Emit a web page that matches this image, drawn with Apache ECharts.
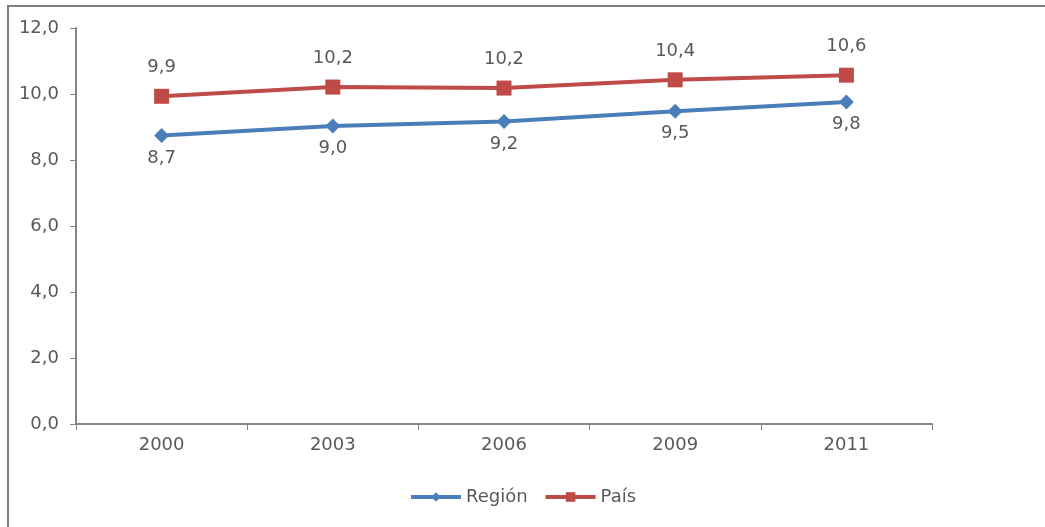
<!DOCTYPE html>
<html>
<head>
<meta charset="utf-8">
<script src="https://cdn.jsdelivr.net/npm/echarts@6/dist/echarts.min.js"></script>
<style>
  html, body { margin: 0; padding: 0; background: #fff; }
  #chart { width: 1045px; height: 527px; }
</style>
</head>
<body>
<div id="chart"></div>
<script>
// datos
var years = ['2000', '2003', '2006', '2009', '2011'];
var region = [8.74, 9.03, 9.17, 9.48, 9.76];
var pais = [9.93, 10.21, 10.18, 10.43, 10.57];
var yTicks = [0, 2, 4, 6, 8, 10, 12];

var textColor = '#595959';
var axisColor = '#868686';
var fontFamily = 'DejaVu Sans';
var fs = 18;

function fmt(v) {
  return v.toFixed(1).replace('.', ',');
}

var myChart = echarts.init(document.getElementById('chart'));
var option = {
  animation: false,
  textStyle: { fontFamily: fontFamily },
  graphic: [
    {
      type: 'rect',
      shape: { x: 8, y: 6, width: 1200, height: 700 },
      style: { fill: 'none', stroke: '#808080', lineWidth: 2 },
      silent: true
    }
  ],
  grid: { left: 76, right: 113, top: 28, bottom: 103 },
  legend: {
    bottom: 16,
    left: 'center',
    itemWidth: 50,
    itemHeight: 12,
    itemGap: 16,
    lineStyle: { width: 4 },
    textStyle: { color: textColor, fontSize: fs, fontFamily: fontFamily },
    data: ['Región', 'País']
  },
  xAxis: {
    type: 'category',
    data: years,
    boundaryGap: true,
    axisLine: { lineStyle: { color: axisColor, width: 2 } },
    axisTick: { show: true, length: 6, lineStyle: { color: axisColor } },
    axisLabel: { color: textColor, fontSize: fs, margin: 12, fontFamily: fontFamily }
  },
  yAxis: {
    type: 'value',
    min: yTicks[0],
    max: yTicks[yTicks.length - 1],
    interval: 2,
    axisLine: { show: true, lineStyle: { color: axisColor, width: 2 } },
    axisTick: { show: true, length: 6, lineStyle: { color: axisColor } },
    splitLine: { show: false },
    axisLabel: { color: textColor, fontSize: fs, margin: 17, fontFamily: fontFamily, formatter: fmt }
  },
  series: [
    {
      name: 'Región',
      type: 'line',
      data: region,
      symbol: 'diamond',
      symbolSize: 15,
      color: '#4A7EBB',
      lineStyle: { width: 4, color: '#4A7EBB' },
      label: {
        show: true,
        position: 'bottom',
        distance: 6,
        color: textColor,
        fontSize: fs,
        fontFamily: fontFamily,
        formatter: function (p) { return fmt(p.value); }
      }
    },
    {
      name: 'País',
      type: 'line',
      data: pais,
      symbol: 'rect',
      symbolSize: 15,
      color: '#BE4B48',
      lineStyle: { width: 4, color: '#BE4B48' },
      label: {
        show: true,
        position: 'top',
        distance: 12,
        color: textColor,
        fontSize: fs,
        fontFamily: fontFamily,
        formatter: function (p) { return fmt(p.value); }
      }
    }
  ]
};
option && myChart.setOption(option);
</script>
</body>
</html>
